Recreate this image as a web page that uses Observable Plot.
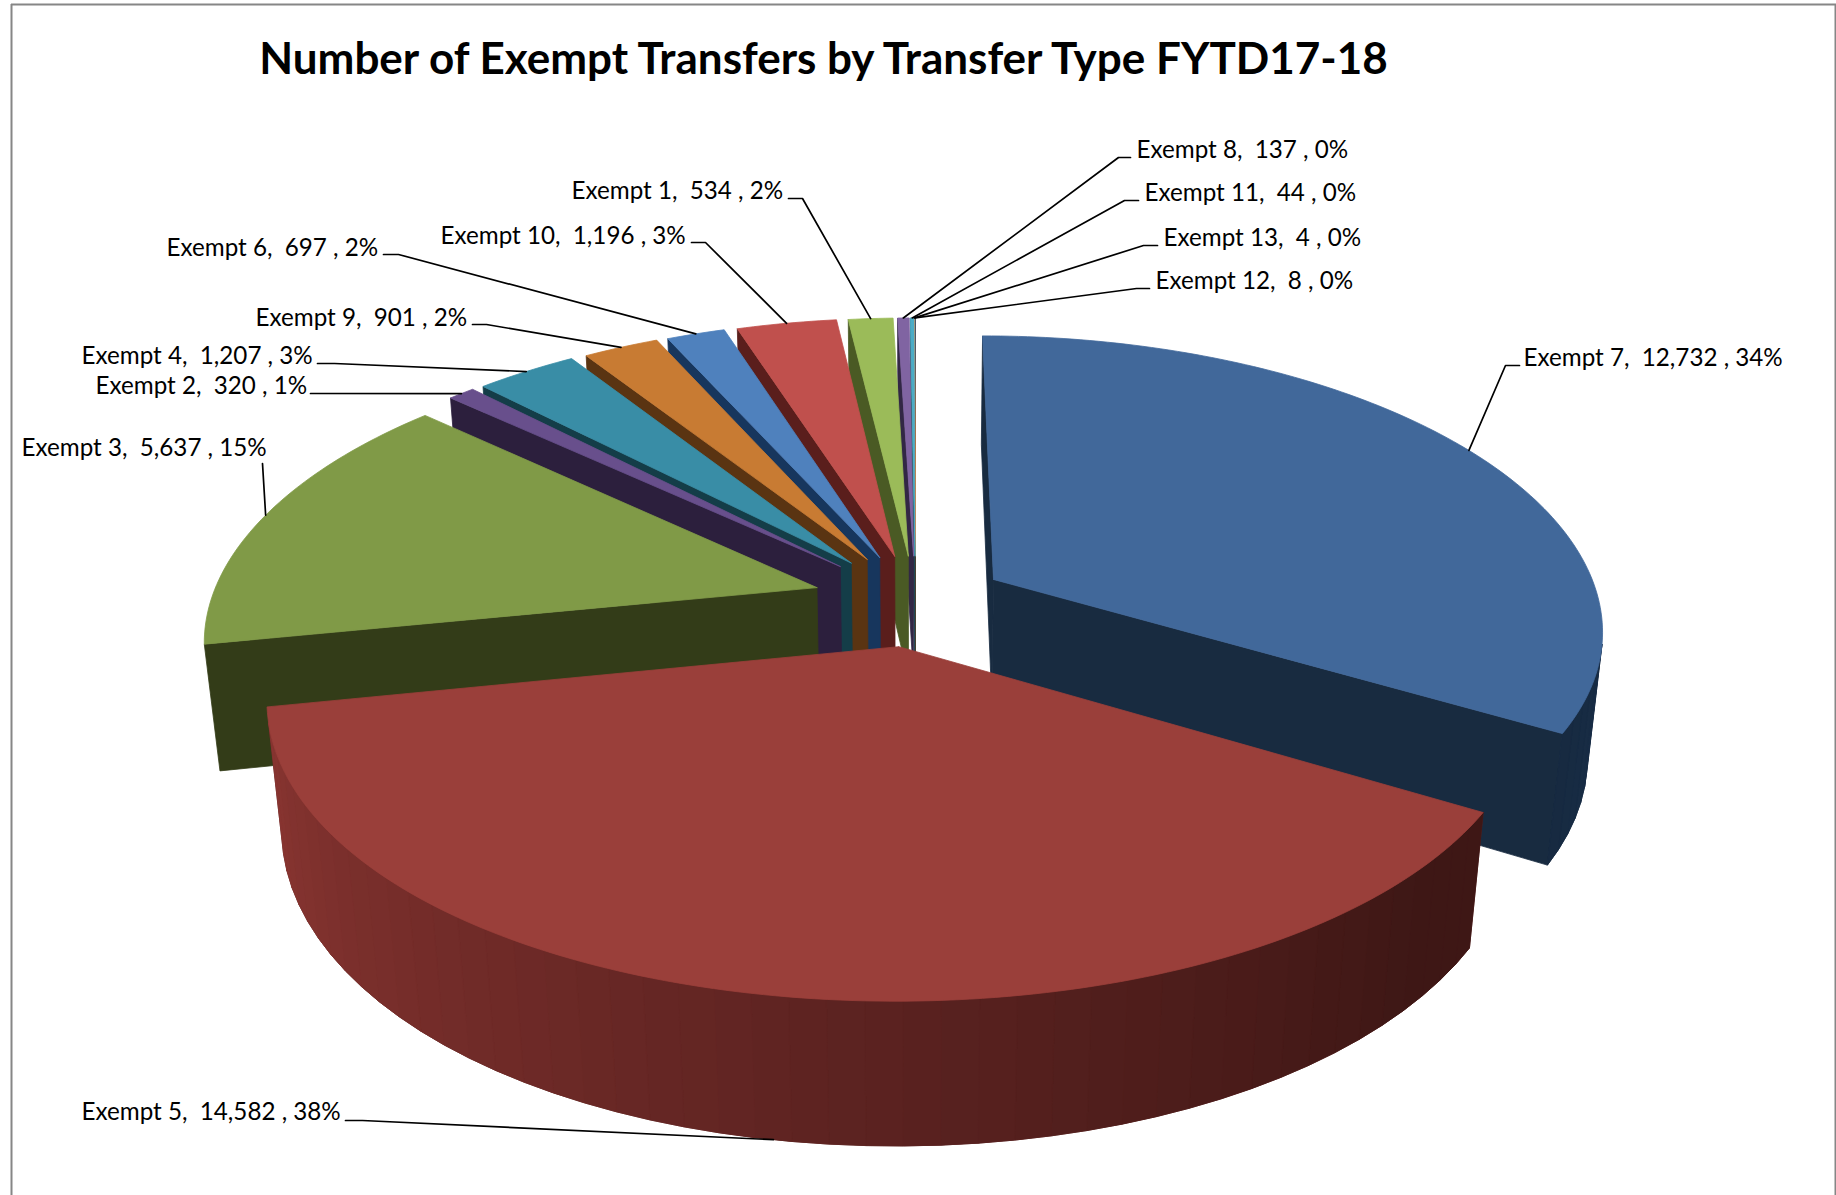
<!DOCTYPE html>
<html>
<head>
<meta charset="utf-8">
<style>html,body{margin:0;padding:0;background:#fff}svg{display:block}</style>
<script src="https://cdn.jsdelivr.net/npm/d3@7"></script>
<script src="https://cdn.jsdelivr.net/npm/@observablehq/plot@0.6"></script>
</head>
<body>
<script>
const titleText = "Number of Exempt Transfers by Transfer Type FYTD17-18";
const names = ["Exempt 7","Exempt 5","Exempt 3","Exempt 2","Exempt 4","Exempt 9","Exempt 6","Exempt 10","Exempt 1","Exempt 8","Exempt 11","Exempt 13","Exempt 12"];
const values = [12732,14582,5637,320,1207,901,697,1196,534,137,44,4,8];
const percents = [34,38,15,1,3,2,2,3,2,0,0,0,0];
const topColors = ["#41689a","#9a3f3a","#809a47","#684f8c","#398da6","#c87b33","#4f81bd","#c0504d","#9bbb59","#8064a2","#4bacc6","#f79646","#2c4d75"];
const wallColors = ["#182b40","#3f1816","#333c18","#2c1f3d","#143d48","#5a3412","#17365d","#5a1e1c","#4a5a24","#322745","#1f4a55","#6a3f1c","#14233a"];
const explosions = [0.15,0.16,0.17,0.175,0.172,0.168,0.165,0.162,0.16,0.16,0.16,0.16,0.16];
const paintOrder = [12,11,10,9,8,7,6,5,4,3,2,0,1];

// Label placement, in chart pixels: text x, text y, leader start x, elbow x, elbow y
const labelLayout = {
  "Exempt 7":[1523,358,1519,1505,365],
  "Exempt 5":[81,1112,345,362,1120],
  "Exempt 3":[21,448,262,262,463],
  "Exempt 2":[95,386,310,312,393],
  "Exempt 4":[81,356,317,334,363],
  "Exempt 9":[255,318,472,486,324],
  "Exempt 6":[166,248,383,398,254],
  "Exempt 10":[440,236,691,705,242],
  "Exempt 1":[571,191,788,802,198],
  "Exempt 8":[1136,150,1130,1118,157],
  "Exempt 11":[1144,193,1138,1124,200],
  "Exempt 13":[1163,238,1157,1143,245],
  "Exempt 12":[1155,281,1149,1136,288]
};

// Perspective view of the pie
const view = {cx:915, cy:600, f:606, g:286, gBottom:290, k:0.15, kx:0.165, drop:0.022, H:127};
function project(X, Y, bottom) {
  const d = bottom ? view.drop : 0;
  return [
    view.cx + view.f * X / (1 + view.kx * Y + d),
    view.cy + (bottom ? (-view.gBottom * Y + view.H) : (-view.g * Y)) / (1 + view.k * Y + d)
  ];
}

const arcs = d3.pie().sort(null).value(d => d)(values);
const step = 3 * Math.PI / 180;

function slicePoint(i, r, t) {
  const a = arcs[i], mid = (a.startAngle + a.endAngle) / 2, e = explosions[i];
  return [e * Math.sin(mid) + r * Math.sin(t), e * Math.cos(mid) + r * Math.cos(t)];
}
function arcAngles(a, s) {
  const n = Math.max(2, Math.ceil((a.endAngle - a.startAngle) / s));
  return d3.range(n + 1).map(j => a.startAngle + (a.endAngle - a.startAngle) * j / n);
}

const polys = [];
function addPoly(id, pts, color) {
  [...pts, pts[0]].forEach(p => polys.push({id, x:p[0], y:p[1], color}));
}
const redShade = d3.scaleLinear().domain([258,180,130]).range(["#8b3632","#5b2220","#3e1715"]).interpolate(d3.interpolateRgb).clamp(true);
const blueShade = d3.scaleLinear().domain([120,70]).range(["#172a40","#1a3150"]).clamp(true);

paintOrder.forEach(i => {
  const a = arcs[i];
  const angles = arcAngles(a, step);
  const center = slicePoint(i, 0, 0);
  const quad = (p, q) => [project(p[0],p[1],false), project(q[0],q[1],false), project(q[0],q[1],true), project(p[0],p[1],true)];
  const facing = pts => d3.polygonArea(pts) > 0;
  const startEdge = slicePoint(i, 1, a.startAngle), endEdge = slicePoint(i, 1, a.endAngle);
  // radial walls
  [quad(center, startEdge), quad(endEdge, center)].forEach((w, j) => { if (facing(w)) addPoly(`w${i}-${j}`, w, wallColors[i]); });
  // outer wall: a solid underlay, then one band per step
  const bands = angles.slice(0, -1).map((t, j) => ({t, w: quad(slicePoint(i, 1, t), slicePoint(i, 1, angles[j + 1]))})).filter(b => facing(b.w));
  if (bands.length) {
    const under = [...bands.map(b => b.w[0]), bands[bands.length - 1].w[1], bands[bands.length - 1].w[2], ...bands.map(b => b.w[3]).reverse()];
    const midDeg = bands[bands.length >> 1].t * 180 / Math.PI;
    addPoly(`u${i}`, under, i === 1 ? redShade(midDeg) : i === 0 ? blueShade(midDeg) : wallColors[i]);
    bands.forEach((b, j) => {
      const deg = b.t * 180 / Math.PI;
      addPoly(`o${i}-${j}`, b.w, i === 1 ? redShade(deg) : i === 0 ? blueShade(deg) : wallColors[i]);
    });
  }
  // top face
  const top = [center, ...arcAngles(a, step / 3).map(t => slicePoint(i, 1, t))].map(p => project(p[0], p[1], false));
  addPoly(`t${i}`, top, topColors[i]);
});

// Leader lines end on the slice's outer edge at its bisector
const fmt = d3.format(",");
const labels = names.map((name, i) => {
  const [x, y] = labelLayout[name];
  return {name, x, y, text: `${name},  ${fmt(values[i])} , ${percents[i]}%`};
});
const leaders = names.flatMap((name, i) => {
  const [, , sx, ex, ey] = labelLayout[name];
  const a = arcs[i], mid = (a.startAngle + a.endAngle) / 2;
  const p = slicePoint(i, 1, mid);
  const end = project(p[0], p[1], name === "Exempt 5");
  return [[sx, ey], [ex, ey], end].map(q => ({name, x:q[0], y:q[1]}));
});

const chart = Plot.plot({
  width: 1836, height: 1195,
  marginTop: 0, marginRight: 0, marginBottom: 0, marginLeft: 0,
  x: {domain:[0,1836], range:[0,1836], axis:null},
  y: {domain:[0,1195], range:[0,1195], axis:null},
  color: {type:"identity"},
  style: {background:"#fff"},
  marks: [
    Plot.ruleX([11], {y1:4, y2:1195, stroke:"#868686", strokeWidth:2}),
    Plot.ruleX([1835], {y1:4, y2:1195, stroke:"#868686", strokeWidth:2}),
    Plot.ruleY([4], {x1:11, x2:1836, stroke:"#868686", strokeWidth:2}),
    Plot.line(polys, {x:"x", y:"y", z:"id", fill:"color", stroke:"color", strokeWidth:0.8, curve:"linear"}),
    Plot.line(leaders, {x:"x", y:"y", z:"name", stroke:"#000", strokeWidth:1.7, curve:"linear"}),
    Plot.text(labels, {x:"x", y:"y", text:"text", textAnchor:"start", fontSize:24.2, fontFamily:"Lato", fill:"#000"}),
    Plot.text([titleText], {x:[823], y:[59], textAnchor:"middle", fontSize:44, fontWeight:"bold", fontFamily:"Lato", fill:"#000"})
  ]
});
document.body.appendChild(chart);
</script>
</body>
</html>
